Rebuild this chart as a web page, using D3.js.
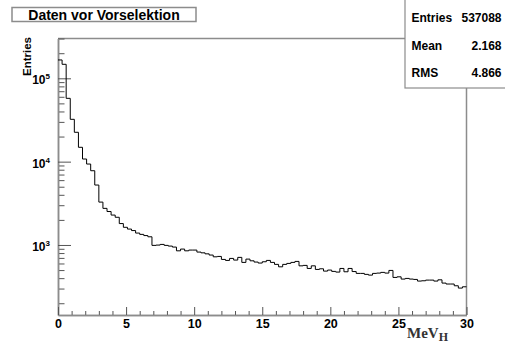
<!DOCTYPE html>
<html>
<head>
<meta charset="utf-8">
<script src="https://cdn.jsdelivr.net/npm/d3@7"></script>
<style>
  body { margin: 0; background: #fff; }
  svg { display: block; }
  text { font-family: "Liberation Sans", Arial, Helvetica, sans-serif; font-weight: bold; fill: #000; }
</style>
</head>
<body>
<script>
// histogram contents, 100 bins of 0.3 MeV from 0 to 30
const binWidth = 0.3
const counts = [166000, 147200, 57500, 32200, 22500, 14860, 10750, 9360, 7780, 5240,
    3270, 2750, 2520, 2285, 2150, 1807, 1630, 1552, 1489, 1390,
    1340, 1297, 1254, 989, 997, 1016, 989, 970, 944, 851,
    893, 851, 869, 869, 822, 805, 783, 757, 721, 729,
    671, 653, 690, 659, 710, 618, 677, 646, 624, 607,
    629, 653, 618, 585, 547, 585, 601, 618, 635, 562,
    569, 523, 562, 509, 518, 486, 500, 482, 473, 523,
    477, 523, 480, 456, 456, 444, 435, 456, 460, 469,
    460, 495, 408, 415, 390, 397, 390, 386, 369, 372,
    379, 379, 369, 382, 349, 340, 340, 324, 304, 315]

const xTicks = [0, 5, 10, 15, 20, 25, 30]
const yDecades = [3, 4, 5]
const statLabels = ["Entries", "Mean", "RMS"]
const statValues = ["537088", "2.168", "4.866"]
const title = "Daten vor Vorselektion"

const width = 505, height = 345
const frame = { left: 58, right: 466.5, top: 38.5, bottom: 315 }

const svg = d3.select("body").append("svg")
    .attr("width", width)
    .attr("height", height)

const x = d3.scaleLinear()
    .domain([0, counts.length * binWidth])
    .range([frame.left, frame.right])

const y = d3.scaleLog()
    .domain([144.5, 300300])
    .range([frame.bottom, frame.top])

const axisColor = "#8c8c8c"

// frame lines (top and right)
svg.append("line")
    .attr("x1", frame.left).attr("x2", frame.right)
    .attr("y1", frame.top).attr("y2", frame.top)
    .style("stroke", axisColor).style("stroke-width", 1.5)
svg.append("line")
    .attr("x1", frame.right).attr("x2", frame.right)
    .attr("y1", frame.top).attr("y2", frame.bottom)
    .style("stroke", axisColor).style("stroke-width", 1.5)

// y minor ticks
const minorY = []
for (let e = 2; e <= 5; e++) {
    for (let m = 2; m <= 9; m++) {
        const v = m * Math.pow(10, e)
        if (v >= y.domain()[0] && v <= y.domain()[1]) minorY.push(v)
    }
}
svg.append("g")
    .attr("class", "axis axis--y-minor")
    .attr("transform", "translate(" + frame.left + ",0)")
    .call(d3.axisLeft(y).tickValues(minorY).tickSize(-6.5).tickSizeOuter(0).tickFormat(""))

const yAxis = svg.append("g")
    .attr("class", "axis axis--y")
    .attr("transform", "translate(" + frame.left + ",0)")
    .call(d3.axisLeft(y).tickValues(yDecades.map(d => Math.pow(10, d))).tickSize(-13).tickSizeOuter(0).tickFormat(""))

// y labels 10^n
yDecades.forEach(d => {
    const t = svg.append("text")
        .attr("x", 50)
        .attr("y", y(Math.pow(10, d)) + 6)
        .attr("text-anchor", "end")
        .style("font-size", "12px")
    t.append("tspan").text("10")
    t.append("tspan").attr("dy", -5).style("font-size", "8px").text(d)
})

// x minor ticks
const minorX = d3.range(0, 31).filter(d => d % 5 !== 0)
svg.append("g")
    .attr("class", "axis axis--x-minor")
    .attr("transform", "translate(0," + frame.bottom + ")")
    .call(d3.axisBottom(x).tickValues(minorX).tickSize(-4).tickSizeOuter(0).tickFormat(""))

svg.append("g")
    .attr("class", "axis axis--x")
    .attr("transform", "translate(0," + frame.bottom + ")")
    .call(d3.axisBottom(x).tickValues(xTicks).tickSize(-8).tickSizeOuter(0).tickPadding(4).tickFormat(d3.format("d")))

svg.selectAll(".axis path.domain").style("stroke", axisColor).style("stroke-width", 1.5)
svg.selectAll(".axis line").style("stroke", "#555")
svg.selectAll(".axis text")
    .style("font-family", '"Liberation Sans", Arial, sans-serif')
    .style("font-weight", "bold")
    .style("font-size", "12.5px")
    .style("fill", "#000")

// histogram
const pts = counts.map((c, i) => [i * binWidth, c])
pts.push([counts.length * binWidth, counts[counts.length - 1]])
const line = d3.line()
    .x(d => x(d[0]))
    .y(d => y(d[1]))
    .curve(d3.curveStepAfter)
svg.append("path")
    .datum(pts)
    .attr("d", line)
    .style("stroke", "#000")
    .style("stroke-width", "1px")
    .style("fill", "none")

// axis titles
svg.append("text")
    .attr("transform", "translate(31," + 37 + ") rotate(-90)")
    .attr("text-anchor", "end")
    .style("font-size", "11.5px")
    .text("Entries")

const xl = svg.append("text")
    .attr("x", 407)
    .attr("y", 338)
    .style("font-family", '"Liberation Serif", "Times New Roman", serif')
    .style("font-weight", "bold")
    .style("font-size", "15px")
    .style("fill", "#333")
xl.append("tspan").text("MeV")
xl.append("tspan").attr("dy", 3).style("font-size", "12px").text("H")

// title box
svg.append("rect")
    .attr("x", 12).attr("y", 7.5)
    .attr("width", 184).attr("height", 14)
    .style("fill", "#fff").style("stroke", axisColor).style("stroke-width", 1.5)
svg.append("text")
    .attr("x", 104).attr("y", 19.5)
    .attr("text-anchor", "middle")
    .style("font-size", "14px")
    .text(title)

// stats box
svg.append("rect")
    .attr("x", 405).attr("y", -2)
    .attr("width", 110).attr("height", 90)
    .style("fill", "#fff").style("stroke", axisColor).style("stroke-width", 1.2)
statLabels.forEach((lab, i) => {
    const by = 22 + i * 27.7
    svg.append("text").attr("x", 411.5).attr("y", by).style("font-size", "12px").text(lab)
    svg.append("text").attr("x", 501.5).attr("y", by).attr("text-anchor", "end").style("font-size", "12px").text(statValues[i])
})
</script>
</body>
</html>
